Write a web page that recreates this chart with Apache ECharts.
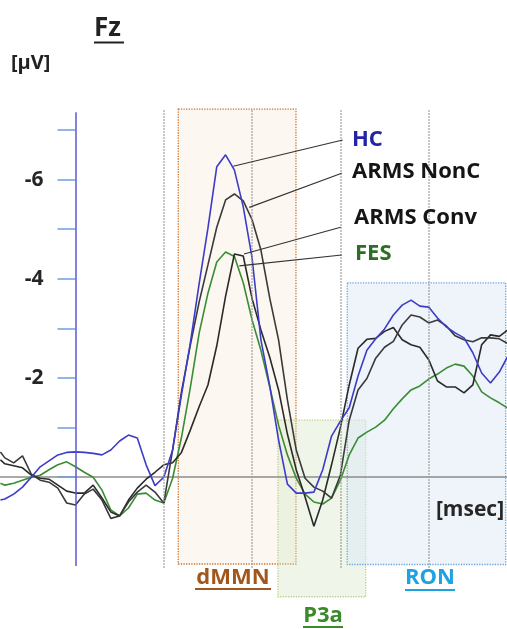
<!DOCTYPE html>
<html><head><meta charset="utf-8">
<script src="https://cdn.jsdelivr.net/npm/echarts@6/dist/echarts.min.js"></script>
<style>html,body{margin:0;padding:0;background:#fff}#c{width:507px;height:629px}</style>
</head><body><div id="c"></div>
<script>
// ---- data (ms, µV) ----
const times = [-85,-80,-70,-60,-50,-40,-30,-20,-10,0,10,20,30,40,50,60,70,80,90,100,110,120,130,140,150,160,170,180,190,200,210,220,230,240,250,260,270,280,290,300,310,320,330,340,350,360,370,380,390,400,410,420,430,440,450,460,470,480,489];
const hcValues = [0.46,0.44,0.34,0.20,0.0,-0.21,-0.33,-0.45,-0.50,-0.51,-0.50,-0.48,-0.45,-0.55,-0.73,-0.85,-0.79,-0.25,0.17,0.0,-0.55,-1.66,-2.7,-3.9,-5.02,-6.26,-6.50,-6.19,-5.45,-4.42,-2.77,-1.84,-0.75,0.14,0.32,0.32,0.30,-0.15,-0.83,-1.13,-1.40,-2.04,-2.56,-2.79,-2.99,-3.27,-3.47,-3.57,-3.45,-3.43,-3.21,-3.03,-2.91,-2.81,-2.51,-2.10,-1.90,-2.12,-2.42];
const nonCValues = [-0.51,-0.39,-0.29,-0.43,-0.06,0.06,0.10,0.22,0.52,0.56,0.34,0.24,0.46,0.83,0.78,0.50,0.30,0.16,0.30,0.52,-0.55,-1.72,-2.66,-3.53,-4.28,-5.04,-5.59,-5.71,-5.57,-5.19,-4.58,-3.61,-2.77,-1.56,-0.55,0.02,0.20,0.28,0.42,-0.04,-1.15,-1.76,-1.99,-2.40,-2.62,-2.74,-3.07,-3.27,-3.23,-3.11,-3.17,-3.05,-2.85,-2.77,-2.73,-2.81,-2.81,-2.79,-2.70];
const convValues = [-0.35,-0.27,-0.23,-0.19,-0.04,0.02,0.04,0.16,0.28,0.32,0.32,0.16,0.42,0.70,0.78,0.46,0.22,0.04,-0.10,-0.25,-0.29,-0.50,-0.95,-1.42,-1.86,-2.65,-3.65,-4.50,-4.46,-3.60,-2.97,-2.42,-1.76,-0.87,-0.15,0.40,0.99,0.46,-0.25,-1.00,-1.86,-2.60,-2.78,-2.80,-2.94,-3.02,-2.77,-2.67,-2.62,-2.37,-1.94,-1.82,-1.82,-1.70,-1.86,-2.67,-2.87,-2.84,-2.96];
const fesValues = [0.12,0.16,0.12,0.06,0.0,-0.04,-0.15,-0.25,-0.31,-0.21,-0.10,0.0,0.26,0.66,0.78,0.62,0.34,0.32,0.46,0.52,0.02,-0.80,-1.80,-2.90,-3.71,-4.34,-4.54,-4.45,-3.92,-3.17,-2.56,-1.82,-1.05,-0.45,0.02,0.34,0.50,0.54,0.42,0.06,-0.45,-0.79,-0.91,-1.01,-1.15,-1.38,-1.58,-1.76,-1.84,-1.98,-2.08,-2.20,-2.28,-2.24,-2.04,-1.72,-1.60,-1.50,-1.40];
const groupNames = ['HC','ARMS NonC','ARMS Conv','FES'];
const xTickLabels = [0,100,200,300,400];
const yTicks = [-7,-6,-5,-4,-3,-2,-1,0];
const yTickLabels = [-6,-4,-2];
const gridTimes = [100,200,300,400];
// component windows: [t0, t1, v0, v1]
const dmmnWin = [116.4,249.7,-7.42,1.75];
const p3aWin = [229.3,328.6,-1.15,2.41];
const ronWin = [307.8,487.2,-3.92,1.76];
// legend leader lines: [labelEnd, curvePoint]
const leaders = [[[302.6,-6.80],[178.7,-6.27]],[[301.5,-6.13],[196.8,-5.44]],[[300.3,-5.04],[190.8,-4.50]],[[301.5,-4.48],[185.5,-4.26]]];
const yAxisSpan = [-7.36,1.79];

// ---- chart ----
const FONT = '"Open Sans", "Liberation Sans", sans-serif';
const pair = arr => times.map((t,i)=>[t,arr[i]]);
const chart = echarts.init(document.getElementById('c'), null, {renderer:'canvas'});
const W = 507, H = 629;
const xMin = -85.5, xMax = 488.7, yMin = -9.621, yMax = 3.06;
const x0px = (0 - xMin) / (xMax - xMin) * W;
const y0px = (0 - yMin) / (yMax - yMin) * H;
const xLabelShift = {0:-24,100:-9,200:-15,300:-22,400:-29};  // label placement offsets (px)
const labelDy = 33;

const dotted = {type:'dotted', color:'#9a9a9a', width:1.5};
const T = (x,y,text,font,fill,align) => ({type:'text',x:x,y:y,z:100,style:{text:text,font:font,fill:fill,textAlign:align||'left',textVerticalAlign:'middle'}});
const U = (x1,x2,y,stroke,w) => ({type:'line',z:100,shape:{x1:x1,y1:y,x2:x2,y2:y},style:{stroke:stroke,lineWidth:w}});

// tick labels as markPoint labels placed at the tick value on the zero line
const tickLabelPoints = xTickLabels.map(v => ({
  coord:[v, 0], value:v, symbol:'none',
  label:{show:true, formatter:String(v), position:'inside', offset:[xLabelShift[v], labelDy],
    fontFamily:FONT, fontWeight:'bold', fontSize:21, color:'#262626'}
}));

const option = {
  animation:false,
  backgroundColor:'#ffffff',
  grid:{left:0,right:0,top:0,bottom:0,containLabel:false,outerBoundsMode:'none'},
  xAxis:{type:'value',min:xMin,max:xMax,position:'bottom',offset:-(H - y0px),z:2,
    axisLine:{show:true,onZero:false,lineStyle:{color:'#8c8c8c',width:1.5}},
    axisTick:{show:false},splitLine:{show:false},axisLabel:{show:false}},
  yAxis:{type:'value',inverse:true,min:yMin,max:yMax,position:'left',offset:-x0px,z:2,
    axisLine:{show:false,onZero:false},
    splitLine:{show:false},
    axisTick:{show:true,customValues:yTicks,length:18,inside:false,lineStyle:{color:'#6f9fe0',width:1.5}},
    axisLabel:{show:true,customValues:yTickLabels,margin:32,hideOverlap:false,fontFamily:FONT,fontWeight:'bold',fontSize:21,color:'#262626'}},
  series:[
    {type:'line',name:'windows',z:1,data:[[0,0]],symbol:'none',lineStyle:{opacity:0},silent:true,
      markArea:{silent:true,label:{show:false},data:[
        [{coord:[dmmnWin[0],dmmnWin[2]],itemStyle:{color:'rgba(247,234,214,0.35)',borderColor:'#c8702a',borderWidth:1.3,borderType:'dotted'}},{coord:[dmmnWin[1],dmmnWin[3]]}],
        [{coord:[p3aWin[0],p3aWin[2]],itemStyle:{color:'rgba(214,228,196,0.38)',borderColor:'#b9cf8c',borderWidth:1.3,borderType:'dotted'}},{coord:[p3aWin[1],p3aWin[3]]}],
        [{coord:[ronWin[0],ronWin[2]],itemStyle:{color:'rgba(222,234,246,0.5)',borderColor:'#6aa6dc',borderWidth:1.3,borderType:'dotted'}},{coord:[ronWin[1],ronWin[3]]}]
      ]},
      markLine:{silent:true,symbol:'none',label:{show:false},data:
        gridTimes.map(t=>[{coord:[t,-7.4],lineStyle:dotted},{coord:[t,1.83]}]).concat([
        [{coord:[0,yAxisSpan[0]],lineStyle:{type:'solid',color:'#5a5ad2',width:1.5}},{coord:[0,yAxisSpan[1]]}]
        ])}
    },
    {type:'line',name:groupNames[3],z:3,data:pair(fesValues),symbol:'none',lineStyle:{color:'#3a8c34',width:1.6}},
    {type:'line',name:groupNames[2],z:3,data:pair(convValues),symbol:'none',lineStyle:{color:'#2a2a2a',width:1.6}},
    {type:'line',name:groupNames[1],z:3,data:pair(nonCValues),symbol:'none',lineStyle:{color:'#3a3a3a',width:1.6}},
    {type:'line',name:groupNames[0],z:4,data:pair(hcValues),symbol:'none',lineStyle:{color:'#3c3cc8',width:1.6}},
    {type:'line',name:'leaders',z:6,data:[[0,0]],symbol:'none',lineStyle:{opacity:0},silent:true,
      markLine:{silent:true,symbol:'none',label:{show:false},
        data:leaders.map(l=>[{coord:l[0],lineStyle:{type:'solid',color:'#333',width:1.1}},{coord:l[1]}])},
      markPoint:{silent:true,symbol:'none',data:tickLabelPoints}}
  ],
  graphic:{elements:[
    T(94,29,'Fz','bold 26px '+FONT,'#222'),
    U(94,124,42.5,'#222',2),
    T(11,63,'[µV]','bold 20px '+FONT,'#222'),
    T(352,140,groupNames[0],'bold 22px '+FONT,'#2424a8'),
    T(352,172,groupNames[1],'bold 22px '+FONT,'#151515'),
    T(354,218,groupNames[2],'bold 22px '+FONT,'#151515'),
    T(355,254,groupNames[3],'bold 22px '+FONT,'#2c6e26'),
    T(470,y0px+labelDy,'[msec]','bold 21px '+FONT,'#262626','center'),
    T(233,578,'dMMN','bold 22px '+FONT,'#a0561c','center'),
    U(195,271,589,'#a0561c',1.8),
    T(430,578,'RON','bold 22px '+FONT,'#1fa2e2','center'),
    U(405,455,590,'#1fa2e2',1.8),
    T(323,616,'P3a','bold 22px '+FONT,'#3a8a2a','center'),
    U(303,343,627,'#3a8a2a',1.8)
  ]}
};
chart.setOption(option);
</script></body></html>
